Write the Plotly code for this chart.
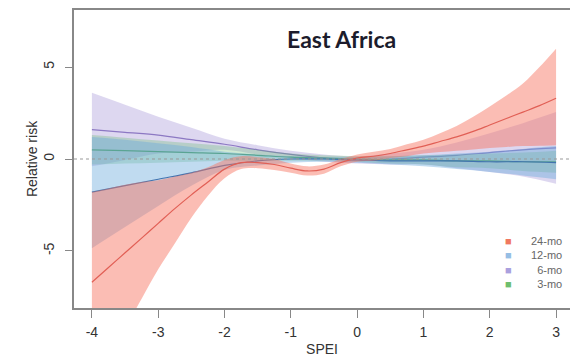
import plotly.graph_objects as go

# ---------------- data ----------------
spei_fine = [-4, -3.75, -3.5, -3.25, -3, -2.75, -2.5, -2.25, -2, -1.75, -1.5, -1.25, -1, -0.75,
             -0.5, -0.25, 0, 0.25, 0.5, 0.75, 1, 1.25, 1.5, 1.75, 2, 2.25, 2.5, 2.75, 3]
mo24_mean = [-6.7, -5.9, -5.1, -4.3, -3.5, -2.7, -1.95, -1.25, -0.55, -0.2, -0.2, -0.3, -0.5, -0.65,
             -0.55, -0.2, 0.05, 0.15, 0.3, 0.5, 0.7, 0.95, 1.2, 1.5, 1.85, 2.2, 2.55, 2.9, 3.3]
mo24_upper = [-1.8, -1.6, -1.4, -1.25, -1.15, -0.95, -0.75, -0.45, -0.05, 0.15, 0.1, 0.0, -0.25, -0.4,
              -0.3, 0.0, 0.25, 0.4, 0.55, 0.8, 1.05, 1.4, 1.8, 2.3, 2.85, 3.45, 4.1, 5.0, 6.0]
mo24_lower = [-12.5, -10.8, -9.2, -7.6, -6.0, -4.6, -3.2, -2.0, -1.05, -0.55, -0.5, -0.6, -0.75, -0.9,
              -0.8, -0.4, -0.15, -0.1, 0.05, 0.15, 0.3, 0.38, 0.45, 0.52, 0.6, 0.65, 0.7, 0.72, 0.75]

spei = [-4, -3.5, -3, -2.5, -2, -1.5, -1, -0.5, 0, 0.5, 1, 1.5, 2, 2.5, 3]
mo12_mean = [-1.8, -1.45, -1.1, -0.75, -0.35, -0.1, 0.0, 0.0, -0.05, -0.1, -0.1, -0.1, -0.15, -0.15, -0.2]
mo12_upper = [1.2, 1.05, 0.85, 0.65, 0.4, 0.25, 0.15, 0.1, 0.1, 0.15, 0.2, 0.3, 0.4, 0.55, 0.7]
mo12_lower = [-4.85, -3.7, -2.55, -1.45, -0.6, -0.35, -0.2, -0.15, -0.2, -0.3, -0.4, -0.55, -0.7, -0.9, -1.1]

mo6_mean = [1.6, 1.45, 1.3, 1.05, 0.8, 0.5, 0.25, 0.05, -0.05, 0.0, 0.1, 0.2, 0.35, 0.5, 0.6]
mo6_upper = [3.6, 2.95, 2.3, 1.7, 1.1, 0.75, 0.45, 0.25, 0.15, 0.3, 0.5, 0.9, 1.4, 1.95, 2.55]
mo6_lower = [-0.4, -0.05, 0.3, 0.4, 0.5, 0.25, 0.05, -0.15, -0.25, -0.3, -0.3, -0.5, -0.7, -0.95, -1.35]

mo3_mean = [0.5, 0.45, 0.4, 0.35, 0.3, 0.2, 0.1, 0.05, 0.0, -0.05, -0.05, -0.1, -0.1, -0.15, -0.15]
mo3_upper = [1.3, 1.15, 1.0, 0.85, 0.7, 0.5, 0.3, 0.2, 0.15, 0.15, 0.2, 0.25, 0.3, 0.35, 0.45]
mo3_lower = [-0.3, -0.25, -0.2, -0.15, -0.1, -0.1, -0.1, -0.1, -0.15, -0.25, -0.3, -0.45, -0.5, -0.65, -0.75]

x_ticks = [-4, -3, -2, -1, 0, 1, 2, 3]
x_ticktext = ["-4", "-3", "-2", "-1", "0", "1", "2", "3"]
y_ticks = [-5, 0, 5]
y_ticktext = ["-5", "0", "5"]
legend_labels = ["24-mo", "12-mo", "6-mo", "3-mo"]

# ---------------- figure ----------------
series = [
    (spei, mo6_lower, mo6_mean, mo6_upper, "rgba(165,150,215,0.38)", "rgb(140,120,195)"),
    (spei, mo3_lower, mo3_mean, mo3_upper, "rgba(95,185,110,0.30)", "rgb(80,160,95)"),
    (spei, mo12_lower, mo12_mean, mo12_upper, "rgba(105,170,220,0.42)", "rgb(65,115,175)"),
    (spei_fine, mo24_lower, mo24_mean, mo24_upper, "rgba(247,118,98,0.48)", "rgb(225,95,85)"),
]

fig = go.Figure()
for xs, lo, mid, hi, fillc, linec in series:
    fig.add_trace(go.Scatter(x=xs, y=hi, mode="lines", line=dict(width=0, shape="spline"),
                             showlegend=False, hoverinfo="skip"))
    fig.add_trace(go.Scatter(x=xs, y=lo, mode="lines", line=dict(width=0, shape="spline"),
                             fill="tonexty", fillcolor=fillc, showlegend=False, hoverinfo="skip"))
    fig.add_trace(go.Scatter(x=xs, y=mid, mode="lines", line=dict(width=1.2, color=linec, shape="spline"),
                             showlegend=False))

fig.add_hline(y=0, line=dict(color="#999999", width=1, dash="dot"))

# title
fig.add_annotation(text="<b>East Africa</b>", x=0.54, y=0.955, xref="paper", yref="paper",
                   showarrow=False, font=dict(family="Lato, Open Sans, sans-serif", size=23, color="#1c1c2c"))

# legend (manual, compact like R): one block of swatches, one block of labels
sw_colors = ["rgb(240,120,95)", "rgb(150,190,228)", "rgb(170,160,222)", "rgb(110,190,110)"]
swatch_text = "<br>".join(f"<span style='color:{c}'>■</span>" for c in sw_colors)
label_text = "<br>".join(legend_labels)
leg_font = dict(family="Liberation Sans, Arial, sans-serif", size=11, color="#666666")
fig.add_annotation(text=swatch_text, x=0.875, y=0.154, xref="paper", yref="paper", showarrow=False,
                   xanchor="center", yanchor="middle", align="center", font=leg_font)
fig.add_annotation(text=label_text, x=0.987, y=0.154, xref="paper", yref="paper", showarrow=False,
                   xanchor="right", yanchor="middle", align="right", font=leg_font)

axis_font = dict(family="Liberation Sans, Arial, sans-serif", size=14, color="#333333")
fig.update_layout(
    width=570, height=361,
    margin=dict(l=74, r=0, t=10, b=53),
    paper_bgcolor="white", plot_bgcolor="white",
    showlegend=False,
    xaxis=dict(range=[-4.27, 3.21], tickmode="array", tickvals=x_ticks, ticktext=x_ticktext,
               ticks="outside", ticklen=8, tickcolor="#888888", tickwidth=1,
               ticklabelstandoff=2,
               showline=True, linecolor="#888888", linewidth=1.5, mirror=True,
               showgrid=False, zeroline=False, tickfont=axis_font,
               title=dict(text="SPEI", font=dict(family="Liberation Sans, Arial, sans-serif", size=14, color="#333333"),
                          standoff=6)),
    yaxis=dict(range=[-8.1, 8.1], tickmode="array", tickvals=y_ticks, ticktext=y_ticktext, tickangle=-90,
               ticks="outside", ticklen=7, tickcolor="#888888", tickwidth=1,
               ticklabelstandoff=6,
               showline=True, linecolor="#888888", linewidth=1.5,
               showgrid=False, zeroline=False, tickfont=axis_font,
               title=dict(text="Relative risk", font=dict(family="Liberation Sans, Arial, sans-serif", size=14, color="#333333"),
                          standoff=0)),
)

fig.write_html("out.html")
